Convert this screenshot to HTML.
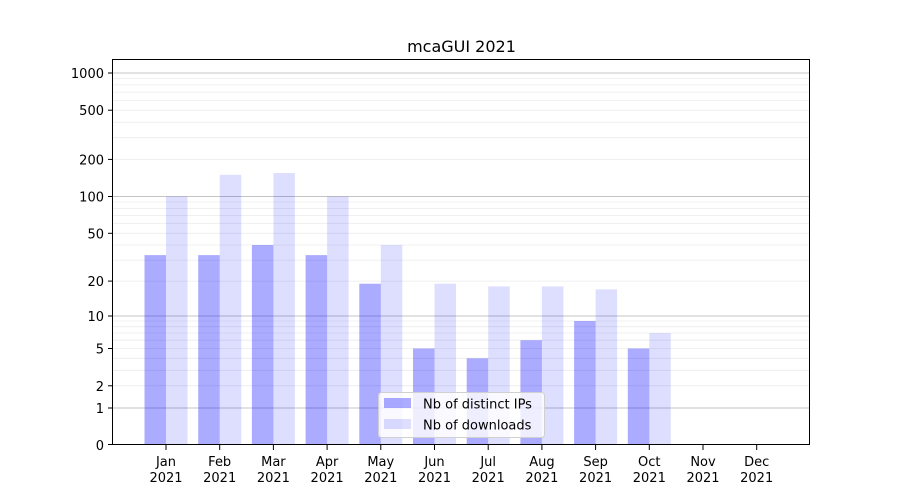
<!DOCTYPE html>
<html><head><meta charset="utf-8"><style>
html,body{margin:0;padding:0;background:#fff}
svg{display:block;font-family:"DejaVu Sans","Liberation Sans",sans-serif}
</style></head><body>
<svg width="900" height="500" viewBox="0 0 900 500">
<rect width="900" height="500" fill="#fff"/>
<g stroke="#ebebeb" stroke-width="0.8">
<line x1="113" x2="810" y1="385.8" y2="385.8"/><line x1="113" x2="810" y1="370.3" y2="370.3"/><line x1="113" x2="810" y1="358.3" y2="358.3"/><line x1="113" x2="810" y1="348.5" y2="348.5"/><line x1="113" x2="810" y1="340.2" y2="340.2"/><line x1="113" x2="810" y1="333" y2="333"/><line x1="113" x2="810" y1="326.7" y2="326.7"/><line x1="113" x2="810" y1="321" y2="321"/>
<line x1="113" x2="810" y1="281.1" y2="281.1"/><line x1="113" x2="810" y1="260.1" y2="260.1"/><line x1="113" x2="810" y1="245" y2="245"/><line x1="113" x2="810" y1="233.3" y2="233.3"/><line x1="113" x2="810" y1="223.6" y2="223.6"/><line x1="113" x2="810" y1="215.4" y2="215.4"/><line x1="113" x2="810" y1="208.4" y2="208.4"/><line x1="113" x2="810" y1="202" y2="202"/>
<line x1="113" x2="810" y1="159.4" y2="159.4"/><line x1="113" x2="810" y1="137.7" y2="137.7"/><line x1="113" x2="810" y1="122.2" y2="122.2"/><line x1="113" x2="810" y1="110.2" y2="110.2"/><line x1="113" x2="810" y1="100.4" y2="100.4"/><line x1="113" x2="810" y1="92.1" y2="92.1"/><line x1="113" x2="810" y1="84.9" y2="84.9"/><line x1="113" x2="810" y1="78.6" y2="78.6"/>
</g>
<g stroke="#c4c4c4" stroke-width="1">
<line x1="113" x2="810" y1="408" y2="408"/><line x1="113" x2="810" y1="316" y2="316"/><line x1="113" x2="810" y1="196.5" y2="196.5"/><line x1="113" x2="810" y1="73" y2="73"/>
</g>
<g fill="#0000ff" fill-opacity="0.33">
<rect x="144.5" y="255.1" width="21.5" height="189.9"/>
<rect x="198.2" y="255.1" width="21.5" height="189.9"/>
<rect x="251.9" y="245" width="21.5" height="200"/>
<rect x="305.6" y="255.1" width="21.5" height="189.9"/>
<rect x="359.3" y="283.7" width="21.5" height="161.3"/>
<rect x="413" y="348.5" width="21.5" height="96.5"/>
<rect x="466.7" y="358.3" width="21.5" height="86.7"/>
<rect x="520.4" y="340.2" width="21.5" height="104.8"/>
<rect x="574.1" y="321" width="21.5" height="124"/>
<rect x="627.8" y="348.5" width="21.5" height="96.5"/>
</g>
<g fill="#0000ff" fill-opacity="0.13">
<rect x="166" y="196.5" width="21.5" height="248.5"/>
<rect x="219.7" y="174.8" width="21.5" height="270.2"/>
<rect x="273.4" y="173" width="21.5" height="272"/>
<rect x="327.1" y="196.5" width="21.5" height="248.5"/>
<rect x="380.8" y="245" width="21.5" height="200"/>
<rect x="434.5" y="283.7" width="21.5" height="161.3"/>
<rect x="488.2" y="286.4" width="21.5" height="158.6"/>
<rect x="541.9" y="286.4" width="21.5" height="158.6"/>
<rect x="595.6" y="289.3" width="21.5" height="155.7"/>
<rect x="649.3" y="333" width="21.5" height="112"/>
</g>
<rect x="112.5" y="59.5" width="697" height="385" fill="none" stroke="#000" stroke-width="1"/>
<g stroke="#000" stroke-width="1">
<line x1="108" x2="113" y1="444.5" y2="444.5"/><line x1="108" x2="113" y1="408" y2="408"/><line x1="108" x2="113" y1="385.8" y2="385.8"/><line x1="108" x2="113" y1="348.5" y2="348.5"/><line x1="108" x2="113" y1="316" y2="316"/><line x1="108" x2="113" y1="281.1" y2="281.1"/><line x1="108" x2="113" y1="233.3" y2="233.3"/><line x1="108" x2="113" y1="196.5" y2="196.5"/><line x1="108" x2="113" y1="159.4" y2="159.4"/><line x1="108" x2="113" y1="110.2" y2="110.2"/><line x1="108" x2="113" y1="73" y2="73"/>
<line x1="166" x2="166" y1="445" y2="450"/><line x1="219.7" x2="219.7" y1="445" y2="450"/><line x1="273.4" x2="273.4" y1="445" y2="450"/><line x1="327.1" x2="327.1" y1="445" y2="450"/><line x1="380.8" x2="380.8" y1="445" y2="450"/><line x1="434.5" x2="434.5" y1="445" y2="450"/><line x1="488.2" x2="488.2" y1="445" y2="450"/><line x1="541.9" x2="541.9" y1="445" y2="450"/><line x1="595.6" x2="595.6" y1="445" y2="450"/><line x1="649.3" x2="649.3" y1="445" y2="450"/><line x1="703" x2="703" y1="445" y2="450"/><line x1="756.7" x2="756.7" y1="445" y2="450"/>
</g>
<g font-size="13" text-anchor="end" fill="#000">
<text x="104" y="450">0</text><text x="104" y="413">1</text><text x="104" y="391">2</text><text x="104" y="353.5">5</text><text x="104" y="321">10</text><text x="104" y="286">20</text><text x="104" y="238.5">50</text><text x="104" y="201.5">100</text><text x="104" y="164.5">200</text><text x="104" y="115">500</text><text x="104" y="78">1000</text>
</g>
<g font-size="13" text-anchor="middle" fill="#000">
<text x="166" y="466">Jan</text><text x="166" y="482">2021</text>
<text x="219.7" y="466">Feb</text><text x="219.7" y="482">2021</text>
<text x="273.4" y="466">Mar</text><text x="273.4" y="482">2021</text>
<text x="327.1" y="466">Apr</text><text x="327.1" y="482">2021</text>
<text x="380.8" y="466">May</text><text x="380.8" y="482">2021</text>
<text x="434.5" y="466">Jun</text><text x="434.5" y="482">2021</text>
<text x="488.2" y="466">Jul</text><text x="488.2" y="482">2021</text>
<text x="541.9" y="466">Aug</text><text x="541.9" y="482">2021</text>
<text x="595.6" y="466">Sep</text><text x="595.6" y="482">2021</text>
<text x="649.3" y="466">Oct</text><text x="649.3" y="482">2021</text>
<text x="703" y="466">Nov</text><text x="703" y="482">2021</text>
<text x="756.7" y="466">Dec</text><text x="756.7" y="482">2021</text>
</g>
<text x="461.5" y="52" font-size="16" text-anchor="middle" fill="#000">mcaGUI 2021</text>
<rect x="378.5" y="392.5" width="166" height="45" rx="3" fill="#fff" fill-opacity="0.8" stroke="#d0d0d0" stroke-width="1"/>
<rect x="384" y="398" width="27" height="10" fill="#0000ff" fill-opacity="0.33"/>
<rect x="384" y="419" width="27" height="10" fill="#0000ff" fill-opacity="0.13"/>
<text x="423" y="408.5" font-size="13" fill="#000">Nb of distinct IPs</text>
<text x="423" y="429.5" font-size="13" fill="#000">Nb of downloads</text>
</svg>
</body></html>
